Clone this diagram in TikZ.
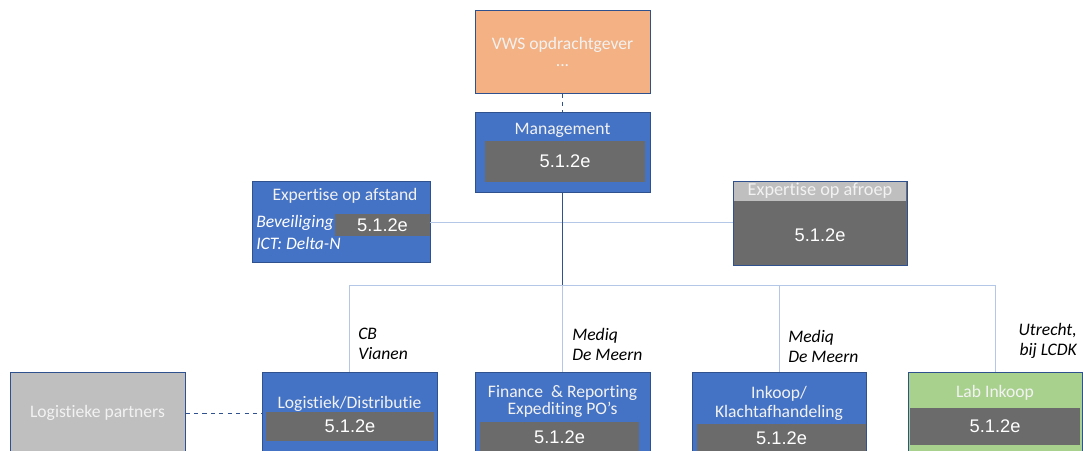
\documentclass[tikz,border=0pt]{standalone}
\usepackage{fontspec}
\setmainfont[Ligatures=NoCommon]{Carlito}
\newfontfamily\codefont{Liberation Sans}
\usepackage{tikz}

\definecolor{vwsorange}{HTML}{F4B183}
\definecolor{offblue}{HTML}{4472C4}
\definecolor{edgeblue}{HTML}{2F528F}
\definecolor{codegray}{HTML}{6B6B6B}
\definecolor{partgray}{HTML}{BFBFBF}
\definecolor{labgreen}{HTML}{A9D18E}
\definecolor{busblue}{HTML}{B4C7E7}

\tikzset{
  box/.style={draw=edgeblue, line width=0.6pt, inner sep=0pt},
  bluebox/.style={box, fill=offblue},
  codebox/.style={fill=codegray, inner sep=0pt, text=white,
    font=\codefont\fontsize{13}{15}\selectfont},
  title/.style={text=white!95!black, inner sep=0pt,
    font=\fontsize{12.5}{15}\selectfont, align=center},
  place/.style={inner sep=0pt, align=left,
    font=\itshape\fontsize{12.5}{14.4}\selectfont},
  bus/.style={busblue, line width=0.7pt},
}

\begin{document}
\begin{tikzpicture}
      [x=0.025cm, y=-0.025cm]
      \useasboundingbox (0,0) rectangle (1083,450);
      \clip (0,0) rectangle (1083,450);

      % top
      \node[box, fill=vwsorange, minimum width=4.375cm, minimum height=2.075cm] (vws) at (562.5,51.5) {};
      \node[title] at (562.5,45) {VWS opdrachtgever};
      \node[title] at (562.5,66) {...};
      \node[bluebox, minimum width=4.375cm, minimum height=2cm] (mgmt) at (562.5,152) {};
      \node[title] at (562.5,130) {Management};
      \node[codebox, minimum width=4cm, minimum height=1.025cm] (mgmtcode) at (565,161.5) {5.1.2e};
      \draw[edgeblue, line width=0.7pt, dashed] (vws.south) -- (mgmt.north);

      % expertise
      \node[bluebox, minimum width=4.45cm, minimum height=2.025cm] (afstand) at (341,221.5) {};
      \node[title] at (345,196) {Expertise op afstand};
      \node[codebox, minimum width=2.375cm, minimum height=0.55cm] (afstandcode) at (382.5,225) {5.1.2e};
      \node[place, text=white, anchor=west] at (256,223) {Beveiliging};
      \node[place, text=white, anchor=west] at (256,243) {ICT: Delta-N};
      \node[box, fill=codegray, minimum width=4.35cm, minimum height=2.1cm] (afroep) at (820,223) {};
      \node[fill=partgray, inner sep=0pt, minimum width=4.3cm, minimum height=0.475cm] at (820,191) {};
      \node[title, font=\fontsize{13}{15}\selectfont] at (820,191) {Expertise op afroep};
      \node[codebox] at (820,235) {5.1.2e};
      \draw[bus] (afstand.east |- 0,222) -- (afroep.west |- 0,222);

      % bottom row
      \node[box, fill=partgray, minimum width=4.375cm, minimum height=2.5cm] (partners) at (97.5,422) {};
      \node[title] at (97.5,413) {Logistieke partners};
      \node[bluebox, minimum width=4.375cm, minimum height=2.5cm] (logi) at (349.5,422) {};
      \node[title] at (349.5,404) {Logistiek/Distributie};
      \node[codebox, minimum width=4.2cm, minimum height=0.725cm] (logicode) at (350,426.5) {5.1.2e};
      \node[bluebox, minimum width=4.375cm, minimum height=2.5cm] (fin) at (562.5,422) {};
      \node[title] at (562.5,393) {Finance \ \& Reporting};
      \node[title] at (562.5,410) {Expediting PO’s};
      \node[codebox, minimum width=3.975cm, minimum height=0.75cm] (fincode) at (559.5,437) {5.1.2e};
      \node[bluebox, minimum width=4.35cm, minimum height=2.5cm] (ink) at (779,422) {};
      \node[title] at (779,394) {Inkoop/};
      \node[title] at (779,413) {Klachtafhandeling};
      \node[codebox, minimum width=4.225cm, minimum height=0.7cm] (inkcode) at (781.5,438) {5.1.2e};
      \node[box, fill=labgreen, minimum width=4.35cm, minimum height=2.5cm] (lab) at (995,422) {};
      \node[title] at (995,393) {Lab Inkoop};
      \node[codebox, minimum width=4.25cm, minimum height=0.925cm] (labcode) at (995,426.5) {5.1.2e};
      \draw[edgeblue, line width=0.7pt, dashed] (partners.east |- 0,413) -- (logi.west |- 0,413);

      % tree
      \coordinate (busline) at (0,285);
      \draw[bus] (logi.north |- busline) -- (lab.north |- busline);
      \foreach \n in {logi,fin,ink,lab}
        \draw[bus] (\n.north) -- (\n.north |- busline);
      \draw[edgeblue, line width=0.6pt] (mgmt.south) -- (mgmt.south |- busline);

      % locations
      \node[place, anchor=north west] at (358,328) {CB\\Vianen};
      \node[place, anchor=north west] at (572,328) {Mediq\\De Meern};
      \node[place, anchor=north west] at (788,330) {Mediq\\De Meern};
      \node[place, anchor=north east, align=right] at (1077,323) {Utrecht,\\bij LCDK};
      \end{tikzpicture}
\end{document}
